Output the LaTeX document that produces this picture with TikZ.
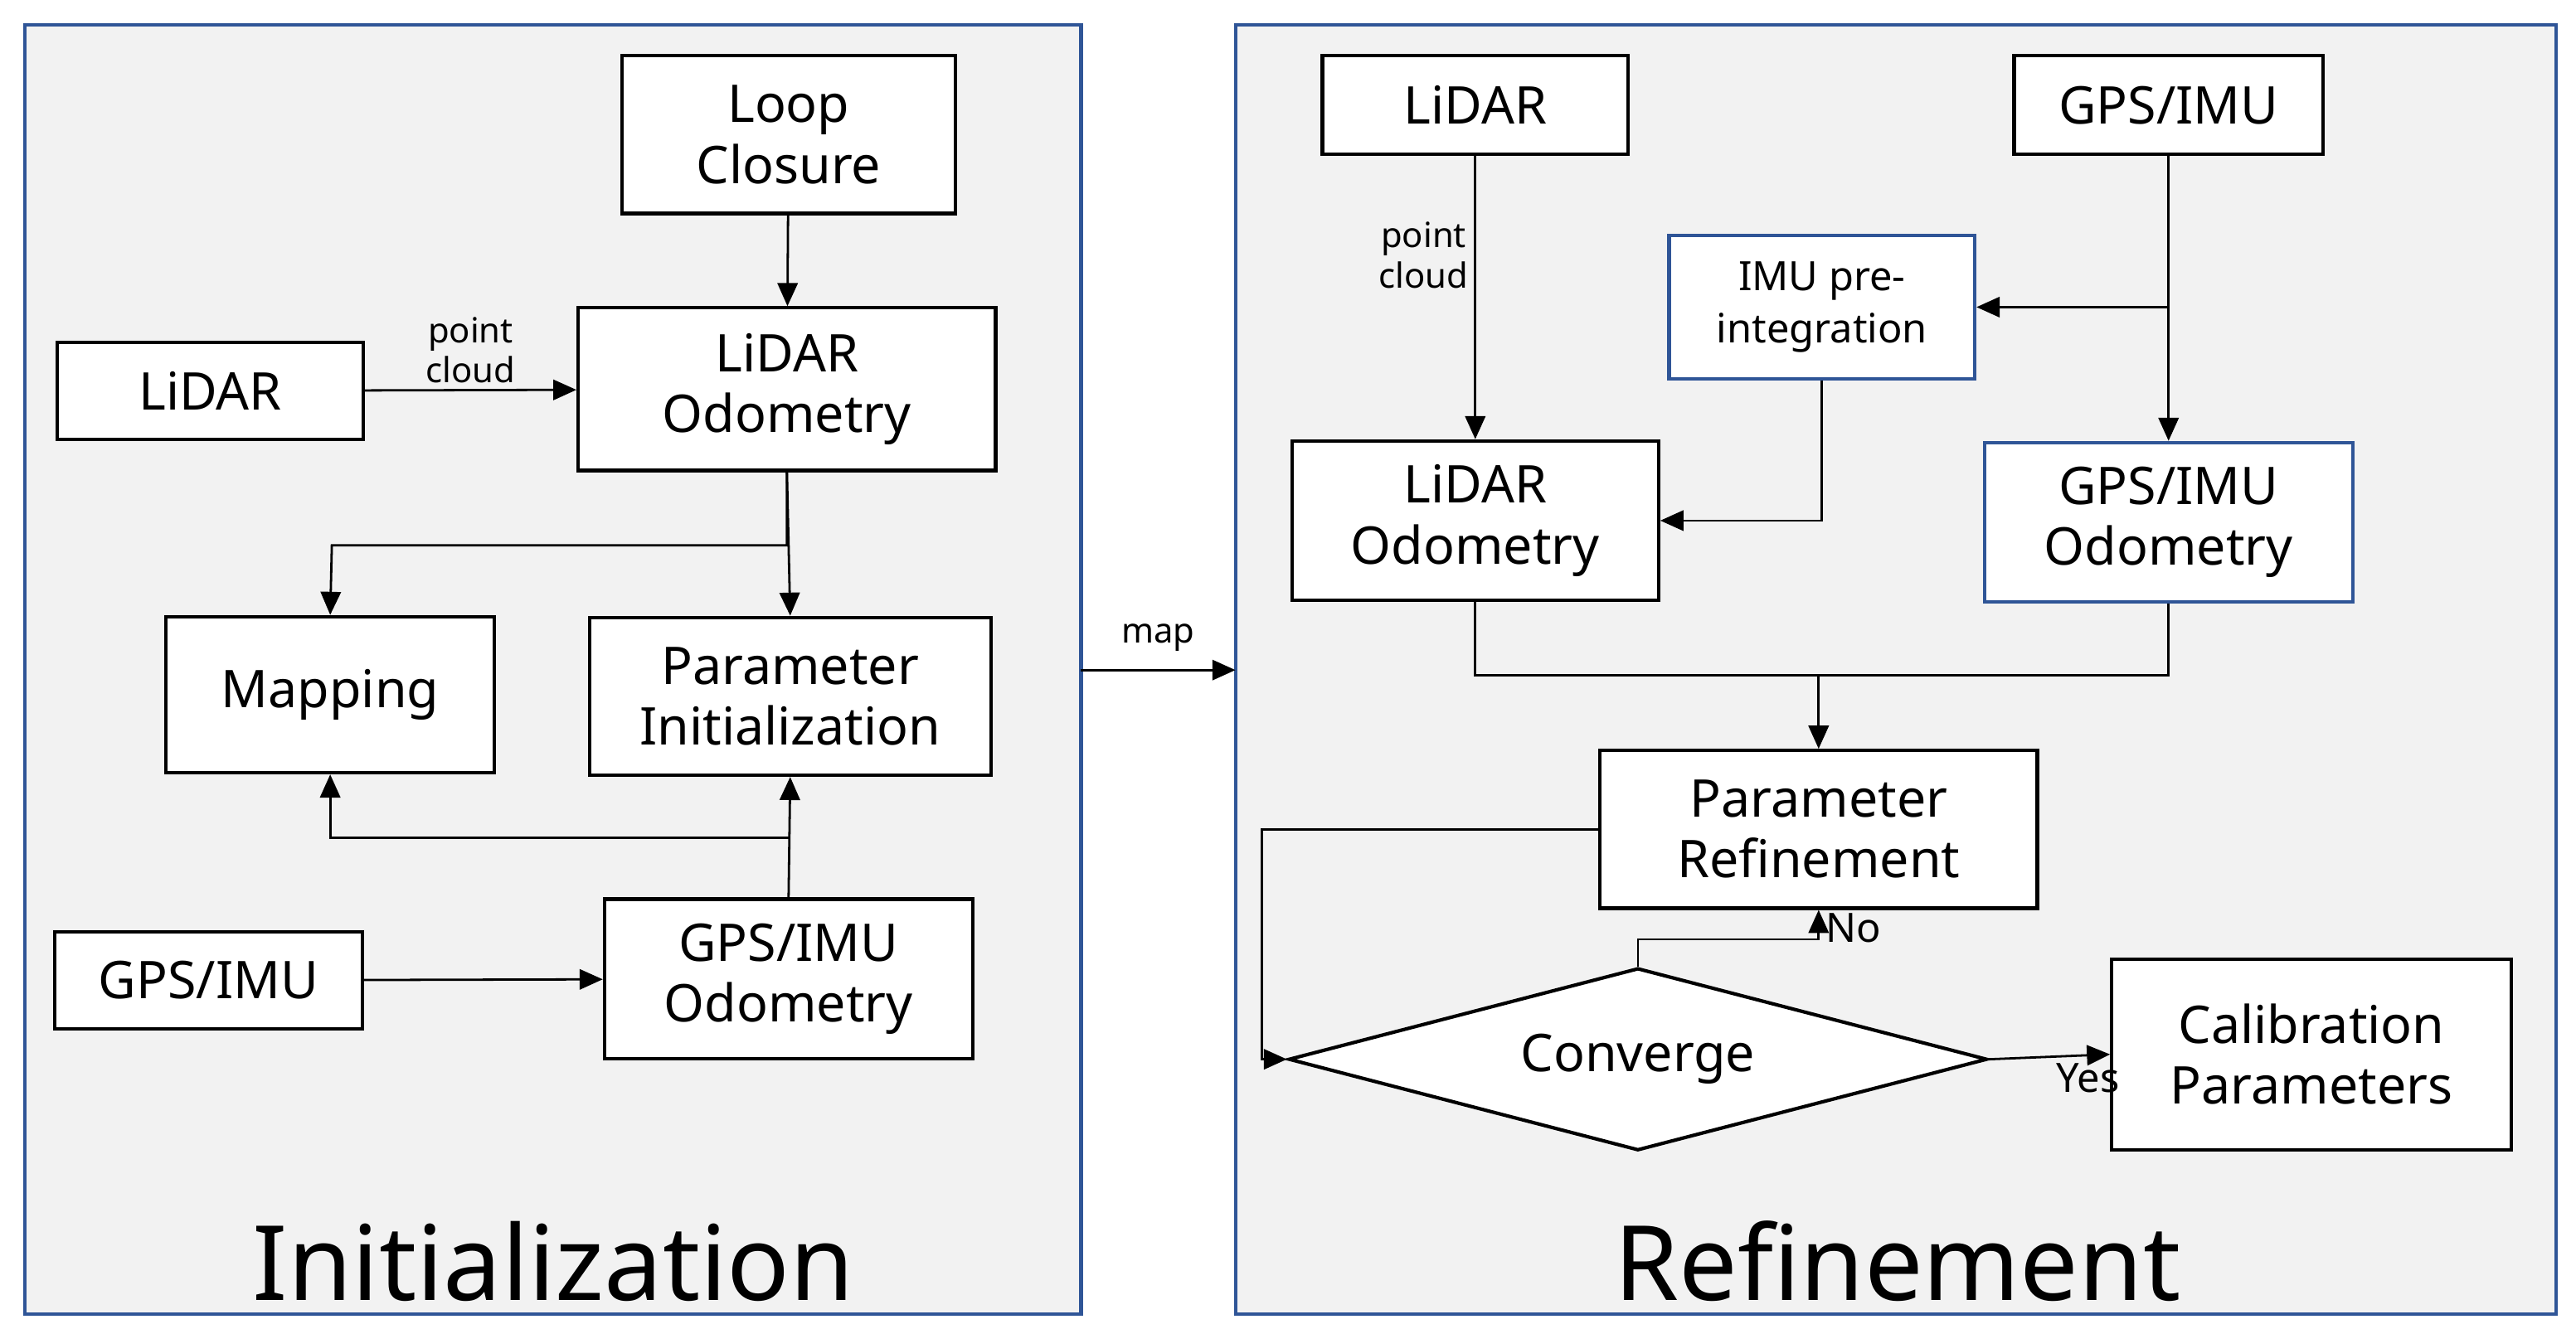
\documentclass[tikz,border=0pt]{standalone}
\usepackage{fontspec}
\setmainfont{Noto Sans}
\usetikzlibrary{arrows.meta,shapes.geometric}
\definecolor{panelblue}{RGB}{47,85,151}
\tikzset{
  box/.style={rectangle, draw=black, fill=white, line width=0.6pt, align=center, font=\fontsize{9}{10.5}\selectfont, inner sep=1pt},
  bluebox/.style={box, draw=panelblue},
  panel/.style={draw=panelblue, fill=gray!10, line width=0.6pt},
  arr/.style={-{Triangle[length=4pt,width=3.5pt]}, line width=0.4pt},
  lbl/.style={font=\fontsize{6}{7}\selectfont, align=center, inner sep=1pt},
  title/.style={font=\fontsize{18}{20}\selectfont\bfseries}
}
\begin{document}
\begin{tikzpicture}[x=0.01cm,y=-0.01cm]
  \useasboundingbox (0,0) rectangle (1568,809);
  \fill[white] (0,0) rectangle (1568,809);

  \draw[panel] (15,15) rectangle (658,800);
  \draw[panel] (752,15) rectangle (1556,800);
  \node(init-title)[title] at (337,768) {Initialization};
  \node(ref-title)[title] at (1155,768) {Refinement};

  % initialization
  \node(loop)[box, minimum width=2.03cm, minimum height=0.96cm] at (480,82) {Loop\\Closure};
  \node(lidar-i)[box, minimum width=1.86cm, minimum height=0.59cm] at (128,238) {LiDAR};
  \node(lodo-i)[box, minimum width=2.54cm, minimum height=0.99cm] at (479,237) {LiDAR\\Odometry};
  \node(mapping)[box, minimum width=2.0cm, minimum height=0.95cm] at (201,423) {Mapping};
  \node(pinit)[box, minimum width=2.44cm, minimum height=0.96cm] at (481,424) {Parameter\\Initialization};
  \node(gps-i)[box, minimum width=1.87cm, minimum height=0.59cm] at (127,597) {GPS/IMU};
  \node(godo-i)[box, minimum width=2.24cm, minimum height=0.97cm] at (480,596) {GPS/IMU\\Odometry};

  \draw[arr] (loop) -- (lodo-i);
  \draw[arr] (lidar-i) -- node[lbl, above]{point\\cloud} (lodo-i);
  \draw[arr] (lodo-i.south) -- (pinit.north);
  \draw[arr] (lodo-i.south) |- (202,332) -- (mapping.north);
  \draw[arr] (godo-i.north) -- (pinit.south);
  \draw[arr] (481,510) -| (mapping.south);
  \draw[arr] (gps-i) -- (godo-i);

  % refinement
  \node(lidar-r)[box, minimum width=1.86cm, minimum height=0.6cm] at (898,64) {LiDAR};
  \node(gps-r)[box, minimum width=1.88cm, minimum height=0.6cm] at (1320,64) {GPS/IMU};
  \node(preint)[bluebox, font=\fontsize{7}{9}\selectfont, minimum width=1.86cm, minimum height=0.87cm] at (1109,187) {IMU pre-\\integration};
  \node(lodo-r)[box, minimum width=2.23cm, minimum height=0.97cm] at (898,317) {LiDAR\\Odometry};
  \node(godo-r)[bluebox, minimum width=2.24cm, minimum height=0.97cm] at (1320,318) {GPS/IMU\\Odometry};
  \node(pref)[box, minimum width=2.66cm, minimum height=0.96cm] at (1107,505) {Parameter\\Refinement};
  \node(conv)[diamond, draw, fill=white, line width=0.6pt, aspect=3.83, minimum width=4.25cm, minimum height=1.11cm, inner sep=0pt, font=\fontsize{9}{10.5}\selectfont] at (997,645) {Converge};
  \node(calib)[box, minimum width=2.43cm, minimum height=1.16cm] at (1407,642) {Calibration\\Parameters};

  \coordinate(map-a) at (658,408);
  \coordinate(map-b) at (752,408);
  \draw[arr] (map-a) -- node[lbl, above=2pt]{map} (map-b);

  \draw[arr] (lidar-r) -- node[lbl, left, pos=0.35]{point\\cloud} (lodo-r);
  \draw[arr] (gps-r) -- (godo-r);
  \draw[arr] (1320,187) -- (preint.east);
  \draw[arr] (preint.south) |- (lodo-r.east);
  \draw (lodo-r.south) |- (1107,411);
  \draw (godo-r.south) |- (1107,411);
  \draw[arr] (1107,411) -- (pref.north);
  \draw[arr] (pref.west) -| (768,645) -- (conv.west);
  \draw[arr] (conv.north) |- (1107,572) -- node[lbl, right, pos=0.4, font=\fontsize{7}{8}\selectfont]{No} (pref.south);
  \draw[arr] (conv.east) -- node[lbl, below right, font=\fontsize{7}{8}\selectfont]{Yes} (calib.west);
\end{tikzpicture}
\end{document}
